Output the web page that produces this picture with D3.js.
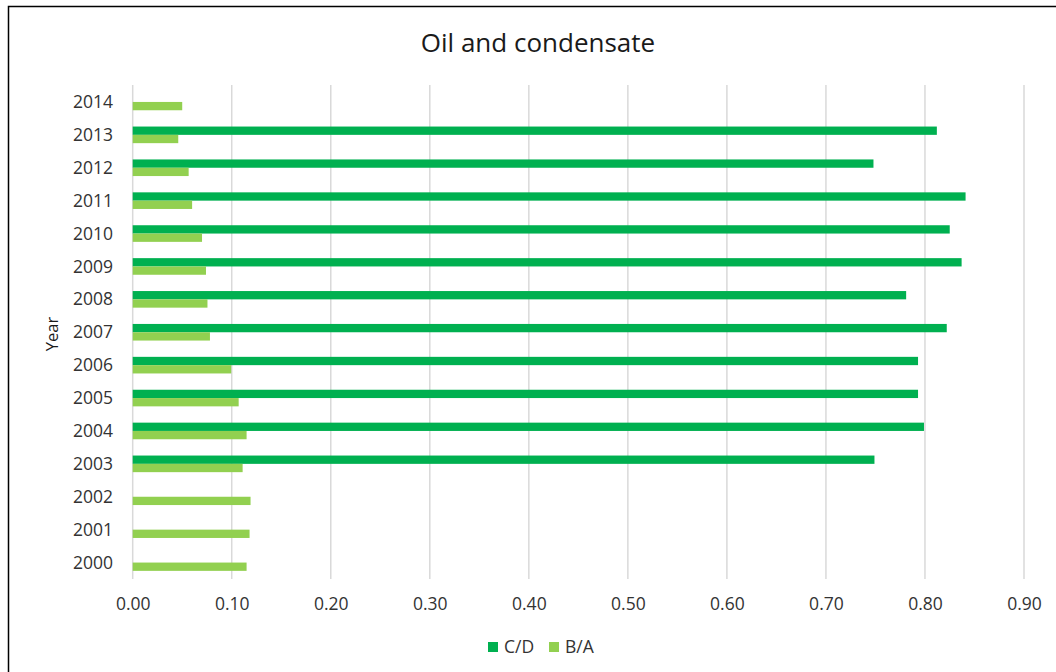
<!DOCTYPE html>
<html><head><meta charset="utf-8">
<script src="https://cdn.jsdelivr.net/npm/d3@7"></script>
<style>
html,body{margin:0;padding:0;background:#fff;}
svg{display:block;font-family:"Open Sans", sans-serif;}
</style></head>
<body><svg id="c" width="1056" height="672"></svg>
<script>
const years = ["2014","2013","2012","2011","2010","2009","2008","2007","2006","2005","2004","2003","2002","2001","2000"];
const seriesNames = ["C/D","B/A"];
const seriesColors = ["#00B050","#92D050"];
const cdValues = [null,0.812,0.748,0.841,0.825,0.837,0.781,0.822,0.793,0.793,0.799,0.749,null,null,null];
const baValues = [0.050,0.046,0.0565,0.060,0.070,0.074,0.0755,0.078,0.0995,0.107,0.115,0.111,0.119,0.118,0.115];
const xTicks = [0,0.1,0.2,0.3,0.4,0.5,0.6,0.7,0.8,0.9];

const FONT = "'Open Sans', sans-serif";
const svg = d3.select("#c");
svg.append("rect").attr("x",8.5).attr("y",6.5).attr("width",1100).attr("height",700)
  .attr("fill","#fff").attr("stroke","#000").attr("stroke-width",1.5);

const x = d3.scaleLinear().domain([0,0.9]).range([132.7,1024]);
const y = d3.scaleBand().domain(years).range([85.5,579]).paddingInner(0.495).paddingOuter(0.2475);
const ys = d3.scaleBand().domain(seriesNames).range([0,y.bandwidth()]);

svg.append("g").selectAll("line").data(xTicks).join("line")
  .attr("x1",d=>x(d)).attr("x2",d=>x(d)).attr("y1",85).attr("y2",579)
  .attr("stroke","#d9d9d9").attr("stroke-width",1.5);

const xAxis = d3.axisBottom(x).tickValues(xTicks).tickFormat(d3.format(".2f")).tickSize(0).tickPadding(0);
const gx = svg.append("g").attr("transform","translate(0,604)").call(xAxis);
gx.select(".domain").remove();
gx.selectAll("text").attr("font-size",17.5).attr("fill","#333").attr("font-family",FONT).attr("dy","0.35em");

const yAxis = d3.axisLeft(y).tickSize(0).tickPadding(0);
const gy = svg.append("g").attr("transform","translate(113,0)").call(yAxis);
gy.select(".domain").remove();
gy.selectAll("text").attr("font-size",17.5).attr("fill","#333").attr("font-family",FONT).attr("dy","0.35em");

const data = [cdValues, baValues];
data.forEach((vals,si)=>{
  svg.append("g").selectAll("rect").data(years.map((yr,i)=>({yr,v:vals[i]})).filter(d=>d.v!=null))
    .join("rect")
    .attr("x",x(0)).attr("y",d=>y(d.yr)+ys(seriesNames[si]))
    .attr("width",d=>x(d.v)-x(0)).attr("height",ys.bandwidth())
    .attr("fill",seriesColors[si]);
});

svg.append("text").attr("x",538).attr("y",52).attr("text-anchor","middle")
  .attr("font-size",26).attr("fill","#1a1a1a").attr("font-family",FONT).text("Oil and condensate");

svg.append("text").attr("transform","translate(58,334) rotate(-90)").attr("text-anchor","middle")
  .attr("font-size",16.5).attr("fill","#1a1a1a").attr("font-family",FONT).text("Year");

const legX = [488,549];
seriesNames.forEach((n,i)=>{
  svg.append("rect").attr("x",legX[i]).attr("y",642).attr("width",10).attr("height",10).attr("fill",seriesColors[i]);
  svg.append("text").attr("x",legX[i]+16).attr("y",653).attr("font-size",17.5).attr("fill","#333").attr("font-family",FONT).text(n);
});
</script></body></html>
